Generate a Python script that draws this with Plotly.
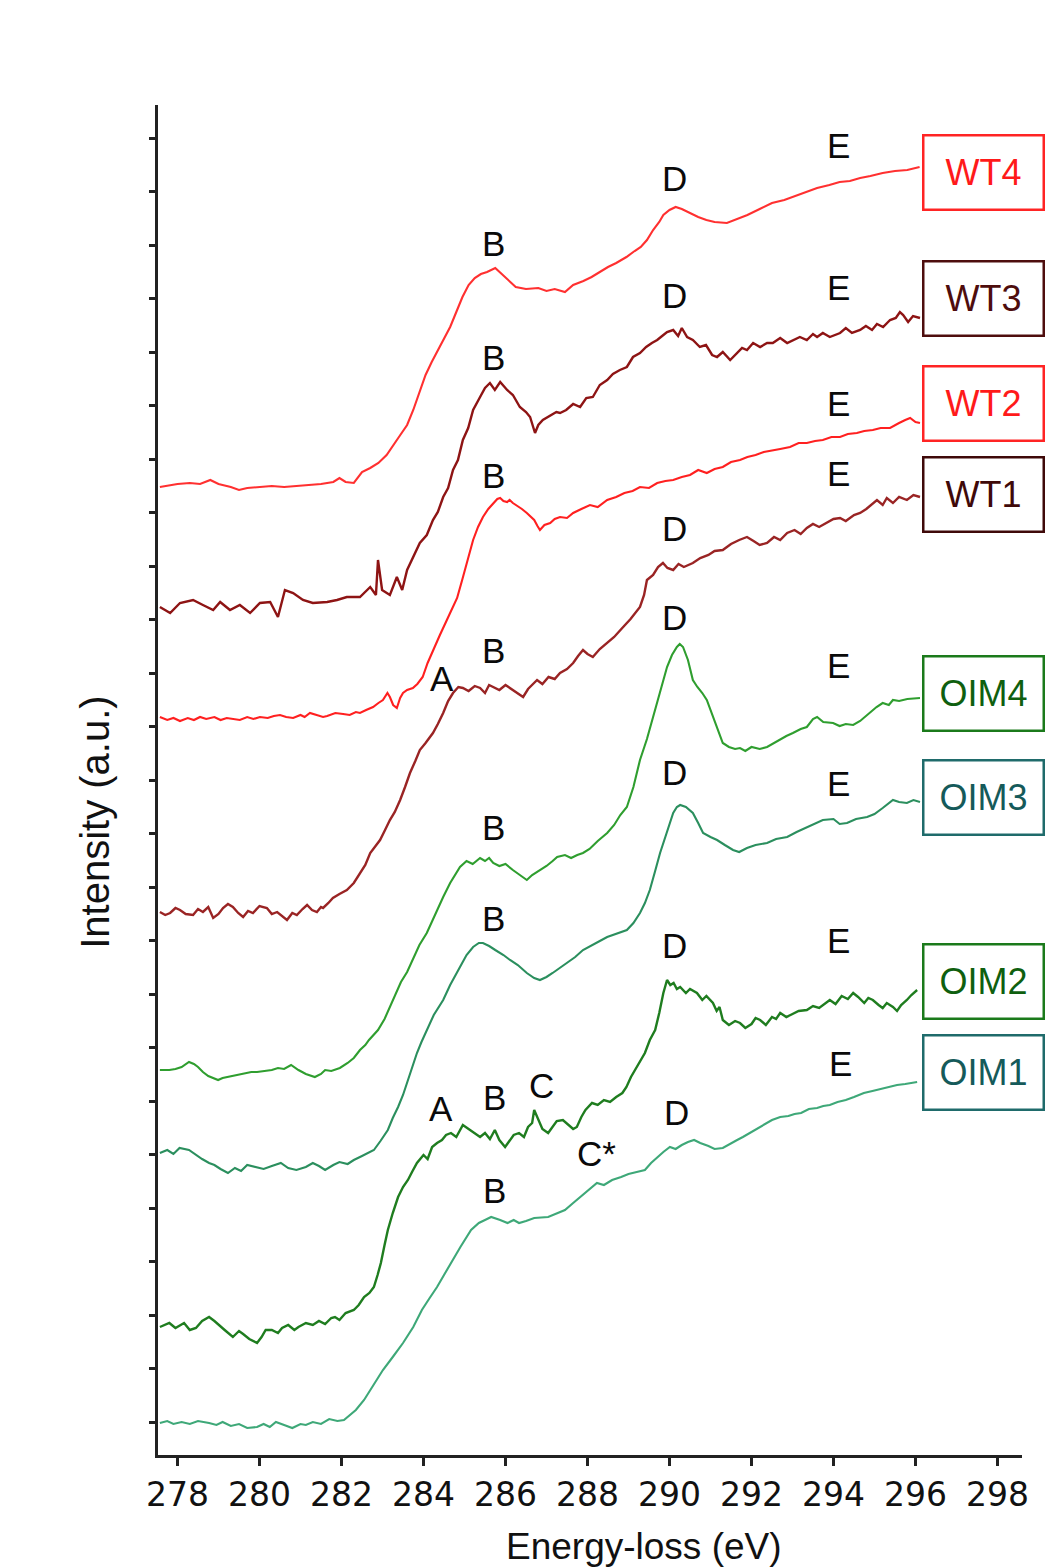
import plotly.graph_objects as go

# ---------------- data (energy-loss eV, intensity a.u.) ----------------
wt4_points = [
    (277.57, 968), (277.8, 970), (278.0, 971), (278.3, 972), (278.55, 971), (278.8, 975), (279.0, 971),
    (279.3, 968), (279.5, 965), (279.7, 967), (280.0, 968), (280.3, 969), (280.6, 968), (280.9, 969),
    (281.2, 970), (281.5, 971), (281.8, 973), (281.95, 977), (282.1, 973), (282.3, 972), (282.5, 983),
    (282.7, 987), (282.9, 992), (283.1, 1000), (283.4, 1018), (283.6, 1030), (283.75, 1045), (283.9, 1063),
    (284.05, 1080), (284.2, 1093), (284.35, 1105), (284.5, 1117), (284.65, 1128), (284.8, 1143),
    (284.95, 1158), (285.1, 1170), (285.25, 1177), (285.4, 1181), (285.55, 1183), (285.75, 1187),
    (285.9, 1181), (286.05, 1175), (286.25, 1168), (286.5, 1166), (286.8, 1167), (287.0, 1164),
    (287.2, 1166), (287.45, 1163), (287.65, 1170), (287.9, 1174), (288.1, 1178), (288.3, 1183),
    (288.5, 1188), (288.7, 1192), (288.95, 1198), (289.15, 1204), (289.3, 1208), (289.45, 1215),
    (289.6, 1225), (289.75, 1233), (289.85, 1240), (290.0, 1245), (290.15, 1248), (290.3, 1246),
    (290.5, 1242), (290.7, 1238), (290.9, 1235), (291.1, 1233), (291.4, 1232), (291.6, 1235),
    (291.9, 1240), (292.2, 1246), (292.5, 1252), (292.8, 1255), (293.0, 1258), (293.3, 1262),
    (293.6, 1267), (293.9, 1270), (294.15, 1273), (294.4, 1274), (294.65, 1277), (294.9, 1279),
    (295.2, 1282), (295.5, 1284), (295.8, 1285), (296.1, 1288),
]

wt3_points = [
    (277.57, 848), (277.82, 842), (278.06, 852), (278.38, 855), (278.62, 850), (278.87, 845), (279.04, 853),
    (279.28, 845), (279.52, 850), (279.77, 842), (280.01, 852), (280.26, 853), (280.45, 838), (280.62, 865),
    (280.82, 862), (281.06, 855), (281.30, 852), (281.65, 853), (281.89, 855), (282.13, 858), (282.45, 858),
    (282.70, 868), (282.84, 860), (282.89, 895), (282.99, 865), (283.18, 860), (283.35, 878), (283.48, 865),
    (283.60, 885), (283.91, 912), (284.08, 920), (284.23, 935), (284.35, 943), (284.48, 958), (284.60, 967),
    (284.72, 985), (284.84, 995), (284.96, 1015), (285.09, 1027), (285.21, 1045), (285.38, 1058),
    (285.50, 1067), (285.62, 1072), (285.74, 1065), (285.87, 1073), (286.04, 1065), (286.18, 1060),
    (286.35, 1048), (286.50, 1043), (286.60, 1038), (286.72, 1022), (286.80, 1030), (286.91, 1035),
    (287.09, 1039), (287.24, 1043), (287.33, 1042), (287.48, 1045), (287.65, 1051), (287.82, 1048),
    (287.97, 1057), (288.13, 1058), (288.30, 1070), (288.48, 1075), (288.62, 1081), (288.79, 1085),
    (288.96, 1088), (289.11, 1098), (289.28, 1102), (289.43, 1108), (289.57, 1112), (289.70, 1115),
    (289.82, 1119), (289.94, 1123), (290.09, 1125), (290.21, 1119), (290.30, 1127), (290.43, 1118),
    (290.57, 1115), (290.74, 1108), (290.89, 1110), (291.04, 1100), (291.16, 1098), (291.30, 1103),
    (291.48, 1095), (291.62, 1101), (291.77, 1107), (291.89, 1105), (292.04, 1112), (292.21, 1108),
    (292.38, 1112), (292.52, 1112), (292.70, 1117), (292.87, 1112), (293.01, 1115), (293.18, 1118),
    (293.35, 1115), (293.50, 1121), (293.60, 1118), (293.74, 1122), (293.91, 1118), (294.16, 1122),
    (294.30, 1127), (294.45, 1122), (294.65, 1125), (294.79, 1129), (294.94, 1125), (295.06, 1131),
    (295.21, 1128), (295.38, 1135), (295.52, 1137), (295.62, 1143), (295.70, 1140), (295.82, 1133),
    (295.94, 1139), (296.11, 1137),
]

wt2_points = [
    (277.57, 738), (277.75, 735), (277.9, 737), (278.06, 734), (278.25, 737), (278.4, 735), (278.55, 738),
    (278.7, 736), (278.9, 738), (279.05, 735), (279.2, 737), (279.35, 736), (279.52, 735), (279.7, 738),
    (279.85, 736), (280.01, 738), (280.2, 737), (280.35, 739), (280.5, 740), (280.65, 738), (280.82, 737),
    (281.0, 740), (281.1, 738), (281.23, 742), (281.4, 740), (281.55, 738), (281.65, 739), (281.85, 742),
    (282.04, 741), (282.2, 740), (282.35, 743), (282.45, 742), (282.6, 745), (282.77, 748), (282.9, 752),
    (283.01, 755), (283.12, 762), (283.18, 758), (283.26, 750), (283.35, 747), (283.43, 757), (283.50, 762),
    (283.6, 765), (283.74, 767), (283.85, 771), (283.98, 778), (284.1, 792), (284.23, 805), (284.4, 820),
    (284.57, 835), (284.7, 846), (284.82, 857), (284.95, 876), (285.08, 897), (285.21, 915), (285.33, 928),
    (285.45, 938), (285.58, 946), (285.70, 952), (285.8, 956), (285.87, 957), (285.95, 954), (286.04, 953),
    (286.1, 955), (286.18, 952), (286.3, 949), (286.4, 946), (286.52, 942), (286.62, 938), (286.70, 935),
    (286.78, 929), (286.84, 925), (286.95, 930), (287.09, 932), (287.2, 936), (287.33, 938), (287.5, 937),
    (287.65, 942), (287.85, 946), (288.06, 950), (288.25, 948), (288.48, 955), (288.7, 958), (288.9, 962),
    (289.1, 964), (289.28, 968), (289.5, 967), (289.7, 972), (289.9, 974), (290.09, 975), (290.3, 978),
    (290.5, 980), (290.7, 985), (290.91, 982), (291.1, 986), (291.3, 988), (291.5, 993), (291.72, 995),
    (291.9, 998), (292.1, 1000), (292.3, 1003), (292.52, 1005), (292.7, 1006), (292.94, 1008),
    (293.15, 1012), (293.35, 1012), (293.55, 1014), (293.74, 1015), (293.95, 1018), (294.16, 1018),
    (294.35, 1021), (294.57, 1022), (294.75, 1024), (294.96, 1025), (295.15, 1027), (295.38, 1027),
    (295.5, 1030), (295.6, 1032), (295.75, 1035), (295.87, 1037), (296.0, 1033), (296.11, 1032),
]

wt1_points = [
    (277.57, 543), (277.70, 540), (277.82, 542), (277.95, 547), (278.06, 545), (278.2, 541), (278.38, 540),
    (278.5, 546), (278.62, 543), (278.75, 548), (278.87, 537), (279.0, 541), (279.11, 547), (279.23, 551),
    (279.35, 548), (279.48, 542), (279.60, 538), (279.72, 544), (279.84, 542), (280.0, 549), (280.18, 547),
    (280.3, 541), (280.43, 543), (280.55, 539), (280.67, 535), (280.8, 542), (280.91, 540), (281.05, 546),
    (281.16, 550), (281.28, 545), (281.40, 543), (281.5, 548), (281.55, 547), (281.68, 552), (281.79, 557),
    (281.95, 561), (282.13, 565), (282.3, 572), (282.45, 582), (282.58, 590), (282.70, 602), (282.82, 608),
    (282.94, 615), (283.05, 624), (283.18, 635), (283.3, 643), (283.43, 655), (283.55, 668), (283.67, 682),
    (283.8, 694), (283.91, 705), (284.05, 712), (284.23, 722), (284.35, 731), (284.48, 742), (284.6, 754),
    (284.72, 762), (284.85, 768), (284.96, 767), (285.1, 764), (285.25, 769), (285.38, 767), (285.5, 762),
    (285.6, 770), (285.70, 768), (285.85, 765), (286.0, 770), (286.18, 765), (286.3, 761), (286.43, 758),
    (286.55, 766), (286.65, 770), (286.77, 775), (286.9, 771), (287.05, 778), (287.2, 776), (287.33, 782),
    (287.5, 786), (287.65, 792), (287.77, 799), (287.89, 805), (288.0, 801), (288.13, 798), (288.3, 806),
    (288.48, 812), (288.65, 818), (288.87, 828), (289.05, 836), (289.28, 848), (289.38, 860), (289.45, 875),
    (289.6, 880), (289.72, 888), (289.84, 892), (289.95, 887), (290.09, 885), (290.22, 891), (290.35, 888),
    (290.57, 892), (290.75, 897), (290.95, 900), (291.1, 904), (291.30, 905), (291.5, 911), (291.7, 915),
    (291.89, 918), (292.05, 914), (292.2, 910), (292.38, 912), (292.55, 918), (292.7, 915), (292.87, 922),
    (293.05, 925), (293.2, 921), (293.35, 927), (293.5, 931), (293.65, 928), (293.84, 932), (294.0, 936),
    (294.16, 937), (294.3, 934), (294.5, 940), (294.65, 942), (294.8, 946), (294.95, 951), (295.06, 955),
    (295.2, 950), (295.3, 957), (295.45, 952), (295.6, 958), (295.79, 955), (295.95, 960), (296.11, 958),
]

oim4_points = [
    (277.57, 385), (277.8, 385), (277.95, 386), (278.1, 388), (278.28, 393), (278.4, 391), (278.5, 388),
    (278.62, 383), (278.75, 379), (278.99, 375), (279.1, 377), (279.23, 378), (279.4, 380), (279.6, 381),
    (279.8, 383), (279.94, 383), (280.1, 384), (280.3, 385), (280.45, 387), (280.6, 386), (280.77, 390),
    (280.95, 385), (281.13, 381), (281.35, 378), (281.5, 381), (281.6, 385), (281.75, 384), (281.96, 387),
    (282.15, 392), (282.30, 397), (282.45, 405), (282.58, 410), (282.67, 415), (282.89, 425), (283.05, 436),
    (283.26, 455), (283.45, 473), (283.6, 483), (283.74, 495), (283.9, 510), (284.08, 522), (284.25, 538),
    (284.48, 558), (284.65, 572), (284.89, 588), (285.05, 594), (285.2, 591), (285.38, 597), (285.5, 594),
    (285.60, 597), (285.70, 592), (285.85, 589), (286.0, 591), (286.18, 585), (286.35, 580), (286.52, 575),
    (286.65, 580), (286.84, 585), (287.0, 589), (287.15, 594), (287.26, 598), (287.45, 600), (287.6, 597),
    (287.75, 600), (287.89, 602), (288.05, 606), (288.25, 614), (288.48, 622), (288.65, 630), (288.8, 640),
    (288.96, 648), (289.12, 668), (289.28, 695), (289.45, 716), (289.60, 738), (289.78, 764), (289.94, 788),
    (290.06, 800), (290.18, 808), (290.25, 811), (290.33, 808), (290.45, 795), (290.57, 775), (290.68, 768),
    (290.8, 762), (290.91, 755), (291.05, 740), (291.18, 725), (291.30, 712), (291.45, 708), (291.6, 706),
    (291.72, 707), (291.85, 704), (292.0, 708), (292.2, 706), (292.38, 708), (292.55, 712), (292.7, 716),
    (292.85, 719), (293.01, 722), (293.2, 726), (293.35, 728), (293.5, 736), (293.60, 738), (293.75, 733),
    (293.99, 732), (294.15, 729), (294.3, 731), (294.48, 730), (294.65, 734), (294.89, 742), (295.05, 748),
    (295.2, 752), (295.35, 750), (295.45, 755), (295.6, 754), (295.8, 756), (296.11, 757),
]

oim3_points = [
    (277.57, 302), (277.75, 305), (277.9, 301), (278.05, 307), (278.28, 305), (278.45, 300), (278.6, 296),
    (278.77, 292), (278.9, 290), (279.05, 286), (279.23, 282), (279.4, 287), (279.55, 284), (279.7, 290),
    (279.94, 288), (280.1, 286), (280.3, 289), (280.52, 292), (280.7, 287), (280.9, 285), (281.13, 288),
    (281.3, 292), (281.45, 289), (281.60, 285), (281.8, 290), (281.95, 293), (282.15, 291), (282.30, 295),
    (282.5, 299), (282.65, 302), (282.79, 305), (282.95, 314), (283.13, 325), (283.25, 337), (283.38, 348),
    (283.5, 360), (283.62, 375), (283.73, 390), (283.84, 402), (283.95, 413), (284.08, 425), (284.25, 440),
    (284.48, 455), (284.65, 470), (284.89, 488), (285.05, 500), (285.21, 508), (285.35, 512), (285.45, 512),
    (285.6, 509), (285.75, 505), (285.95, 500), (286.11, 495), (286.3, 490), (286.52, 482), (286.7, 477),
    (286.84, 475), (287.0, 478), (287.15, 482), (287.33, 487), (287.5, 492), (287.7, 498), (287.89, 505),
    (288.1, 510), (288.3, 514), (288.48, 518), (288.7, 521), (288.96, 525), (289.12, 532), (289.28, 542),
    (289.4, 552), (289.52, 565), (289.65, 584), (289.77, 602), (289.93, 622), (290.09, 642), (290.18, 648),
    (290.26, 650), (290.4, 648), (290.57, 642), (290.7, 632), (290.82, 622), (291.0, 618), (291.16, 615),
    (291.35, 610), (291.55, 605), (291.7, 603), (291.89, 607), (292.1, 610), (292.38, 612), (292.6, 616),
    (292.87, 618), (293.1, 623), (293.35, 628), (293.55, 632), (293.74, 635), (294.0, 636), (294.15, 631),
    (294.33, 632), (294.55, 636), (294.82, 638), (295.0, 641), (295.2, 647), (295.45, 655), (295.6, 653),
    (295.79, 652), (295.95, 655), (296.11, 653),
]

oim2_points = [
    (277.57, 128), (277.8, 132), (277.95, 127), (278.1, 130), (278.16, 132), (278.3, 125), (278.45, 127),
    (278.6, 134), (278.77, 138), (278.9, 134), (279.0, 130), (279.15, 125), (279.35, 118), (279.5, 124),
    (279.6, 121), (279.75, 116), (279.94, 112), (280.05, 118), (280.15, 125), (280.30, 125), (280.45, 122),
    (280.55, 127), (280.7, 130), (280.85, 125), (280.95, 128), (281.13, 132), (281.3, 130), (281.45, 134),
    (281.6, 131), (281.75, 137), (281.84, 138), (281.95, 135), (282.1, 142), (282.30, 145), (282.42, 150),
    (282.55, 158), (282.68, 162), (282.79, 168), (282.88, 180), (282.96, 192), (283.05, 210), (283.13, 225),
    (283.25, 242), (283.38, 258), (283.5, 268), (283.62, 275), (283.72, 283), (283.84, 292), (284.0, 300),
    (284.1, 296), (284.21, 308), (284.33, 312), (284.45, 315), (284.55, 320), (284.67, 322), (284.8, 318),
    (284.96, 330), (285.1, 326), (285.25, 322), (285.38, 318), (285.5, 322), (285.62, 316), (285.74, 325),
    (285.85, 315), (285.99, 308), (286.1, 315), (286.2, 320), (286.33, 322), (286.45, 318), (286.55, 328),
    (286.65, 332), (286.70, 345), (286.8, 335), (286.9, 326), (287.04, 322), (287.15, 328), (287.25, 334),
    (287.40, 335), (287.55, 330), (287.65, 326), (287.74, 328), (287.85, 338), (287.95, 345), (288.11, 352),
    (288.25, 350), (288.4, 355), (288.55, 353), (288.70, 358), (288.85, 362), (288.95, 368), (289.06, 378),
    (289.2, 388), (289.40, 402), (289.52, 415), (289.65, 425), (289.75, 442), (289.85, 462), (289.94, 475),
    (290.02, 470), (290.1, 472), (290.18, 466), (290.26, 468), (290.4, 462), (290.5, 466), (290.67, 462),
    (290.8, 455), (290.9, 459), (291.06, 452), (291.15, 444), (291.22, 448), (291.30, 435), (291.45, 430),
    (291.6, 434), (291.72, 432), (291.85, 427), (292.0, 431), (292.1, 437), (292.21, 435), (292.35, 430),
    (292.5, 438), (292.6, 436), (292.70, 442), (292.85, 438), (293.0, 441), (293.15, 444), (293.35, 445),
    (293.5, 449), (293.65, 447), (293.8, 452), (293.91, 455), (294.05, 451), (294.2, 459), (294.35, 456),
    (294.48, 462), (294.6, 458), (294.75, 452), (294.85, 457), (294.96, 455), (295.1, 450), (295.2, 447),
    (295.3, 452), (295.45, 448), (295.55, 444), (295.65, 450), (295.79, 455), (295.9, 460), (296.04, 465),
]

oim1_points = [
    (277.57, 32), (277.75, 34), (277.9, 31), (278.1, 33), (278.3, 31), (278.5, 34), (278.77, 32),
    (278.95, 30), (279.1, 33), (279.3, 29), (279.5, 31), (279.7, 27), (279.94, 28), (280.1, 31),
    (280.25, 28), (280.4, 33), (280.6, 30), (280.8, 27), (281.0, 31), (281.13, 30), (281.3, 33),
    (281.5, 31), (281.7, 36), (281.9, 34), (282.06, 35), (282.2, 40), (282.35, 45), (282.55, 55),
    (282.75, 68), (283.01, 85), (283.25, 98), (283.50, 112), (283.75, 128), (283.96, 145), (284.15, 157),
    (284.33, 168), (284.5, 180), (284.67, 192), (284.9, 208), (285.16, 225), (285.35, 232), (285.50, 235),
    (285.65, 238), (285.87, 235), (286.05, 232), (286.2, 235), (286.33, 232), (286.5, 234), (286.7, 237),
    (287.04, 238), (287.25, 242), (287.45, 245), (287.65, 252), (287.85, 259), (288.05, 266), (288.23, 272),
    (288.4, 270), (288.6, 275), (288.82, 278), (289.0, 281), (289.2, 283), (289.40, 285), (289.55, 292),
    (289.7, 298), (289.85, 303), (290.01, 308), (290.15, 306), (290.3, 310), (290.45, 313), (290.60, 315),
    (290.75, 312), (290.95, 309), (291.1, 306), (291.30, 307), (291.5, 312), (291.65, 315), (291.79, 318),
    (292.0, 323), (292.2, 328), (292.35, 332), (292.50, 335), (292.7, 338), (292.9, 339), (293.05, 341),
    (293.21, 342), (293.4, 346), (293.6, 347), (293.75, 349), (293.91, 350), (294.1, 353), (294.3, 355),
    (294.5, 358), (294.74, 362), (294.95, 364), (295.15, 366), (295.33, 368), (295.55, 370), (295.75, 371),
    (296.04, 373),
]

sample_names = ["WT4", "WT3", "WT2", "WT1", "OIM4", "OIM3", "OIM2", "OIM1"]
sample_points = [wt4_points, wt3_points, wt2_points, wt1_points,
                 oim4_points, oim3_points, oim2_points, oim1_points]

# label boxes (box centre intensity for each sample)
box_level = [1283, 1157, 1052, 961, 762, 658, 474, 383]

# peak letters: (letter, energy, intensity)
peak_labels = [
    ("B", 285.70, 1212), ("D", 290.13, 1277), ("E", 294.13, 1310),
    ("B", 285.70, 1098), ("D", 290.13, 1160), ("E", 294.13, 1168),
    ("B", 285.70, 980), ("E", 294.13, 1052),
    ("A", 284.45, 777), ("B", 285.70, 805), ("D", 290.13, 927), ("E", 294.13, 982),
    ("B", 285.70, 628), ("D", 290.13, 838), ("E", 294.13, 790),
    ("B", 285.70, 537), ("D", 290.13, 683), ("E", 294.13, 672),
    ("A", 284.43, 347), ("B", 285.72, 358), ("C", 286.87, 370), ("D", 290.13, 510), ("E", 294.13, 515),
    ("B", 285.72, 265), ("C*", 288.23, 302), ("D", 290.18, 343), ("E", 294.16, 392),
]

x_ticks = [278, 280, 282, 284, 286, 288, 290, 292, 294, 296, 298]

# ---------------- styles ----------------
line_colors = ["#ff3030", "#8e1414", "#ff2020", "#9a2424",
               "#2f9e2f", "#2b8f5e", "#1f7d1f", "#3ea878"]
line_widths = [2.1, 2.4, 2.1, 2.4, 2.1, 2.1, 2.4, 2.1]
box_border = ["#ff2424", "#4e0d0d", "#ff2424", "#3f0909",
              "#1b7a1b", "#1f6b6b", "#1b7a1b", "#1f6b6b"]
box_text = ["#ff1a1a", "#4e0d0d", "#ff1a1a", "#3f0909",
            "#0f5f0f", "#155a5a", "#0f5f0f", "#155a5a"]

fig = go.Figure()
for name, pts, col, lw in zip(sample_names, sample_points, line_colors, line_widths):
    fig.add_trace(go.Scatter(
        x=[p[0] for p in pts], y=[p[1] for p in pts], mode="lines", name=name,
        line=dict(color=col, width=lw), showlegend=False, hoverinfo="skip",
    ))

annotations = []
for name, lvl, bc, tc in zip(sample_names, box_level, box_border, box_text):
    annotations.append(dict(
        x=296.17, y=lvl, xref="x", yref="y", xanchor="left", yanchor="middle",
        text=name, showarrow=False, width=116, height=70, borderpad=1,
        bordercolor=bc, borderwidth=2.5, bgcolor="white",
        font=dict(family="Liberation Sans, Arial, sans-serif", size=36, color=tc),
    ))

for letter, e, inten in peak_labels:
    annotations.append(dict(
        x=e, y=inten, xref="x", yref="y", text=letter, showarrow=False,
        xanchor="center", yanchor="middle",
        font=dict(family="Liberation Sans, Arial, sans-serif", size=35, color="#0a0a0a"),
    ))

annotations.append(dict(
    x=0.5625, y=-0.0675, xref="paper", yref="paper", text="Energy-loss (eV)",
    showarrow=False, xanchor="center", yanchor="middle",
    font=dict(family="Liberation Sans, Arial, sans-serif", size=37, color="#111111"),
))
annotations.append(dict(
    x=-0.073, y=0.469, xref="paper", yref="paper", text="Intensity (a.u.)",
    showarrow=False, xanchor="center", yanchor="middle", textangle=-90,
    font=dict(family="Liberation Sans, Arial, sans-serif", size=40, color="#111111"),
))

# the page body adds an 8 px offset, so the figure is drawn 8 px smaller
fig.update_layout(
    width=1053, height=1560,
    margin=dict(l=150, r=39, t=97, b=113),
    paper_bgcolor="white", plot_bgcolor="white",
    annotations=annotations,
    hovermode=False,
)
fig.update_xaxes(
    range=[277.524, 298.598], tickmode="array", tickvals=x_ticks,
    ticktext=[str(t) for t in x_ticks],
    showline=True, linecolor="#222222", linewidth=3,
    ticks="outside", ticklen=8, tickwidth=2.5, tickcolor="#222222",
    tickfont=dict(family="DejaVu Sans, sans-serif", size=33, color="#111111"),
    showgrid=False, zeroline=False,
)
fig.update_yaxes(
    range=[0, 1350], tickmode="linear", tick0=33, dtick=53.5,
    showticklabels=False,
    showline=True, linecolor="#222222", linewidth=3,
    ticks="outside", ticklen=6, tickwidth=2.5, tickcolor="#222222",
    showgrid=False, zeroline=False,
)

fig.write_html("out.html")
